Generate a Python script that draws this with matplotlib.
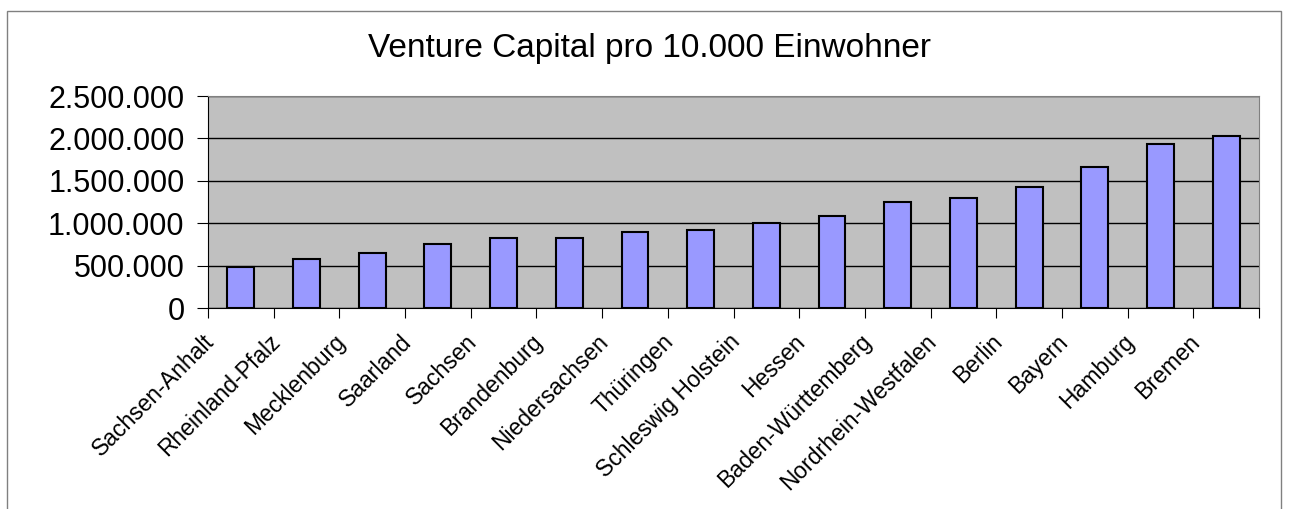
import matplotlib.pyplot as plt
from matplotlib.ticker import FuncFormatter
from matplotlib.patches import Rectangle
import matplotlib.transforms as mtransforms
import numpy as np

plt.rcParams['font.family'] = ['Liberation Sans', 'DejaVu Sans']

laender = ['Sachsen-Anhalt', 'Rheinland-Pfalz', 'Mecklenburg', 'Saarland', 'Sachsen',
           'Brandenburg', 'Niedersachsen', 'Thüringen', 'Schleswig Holstein', 'Hessen',
           'Baden-Württemberg', 'Nordrhein-Westfalen', 'Berlin', 'Bayern', 'Hamburg', 'Bremen']
werte = [480000, 575000, 652000, 750000, 829000, 829000, 900000, 923000, 1000000,
         1081000, 1254000, 1293000, 1430000, 1659000, 1930000, 2025000]
yticks = [0, 500000, 1000000, 1500000, 2000000, 2500000]

fig = plt.figure(figsize=(12.89, 5.09), dpi=100)
ax = fig.add_axes([208/1289, 1 - 308/509, 1051/1289, 212/509])

# outer chart border
fig.patches.append(Rectangle((7/1289, -0.05), 1274/1289, 1 - 11/509 + 0.05,
                             transform=fig.transFigure, fill=False,
                             edgecolor='#808080', linewidth=1))

n = len(laender)
x = np.arange(n)
ax.set_facecolor('#C0C0C0')
ax.bar(x, werte, width=0.41, color='#9999FF', edgecolor='black', linewidth=1.5, zorder=3)

ax.set_xlim(-0.5, n - 0.5)
ax.set_ylim(0, 2500000)
ax.set_yticks(yticks)
ax.yaxis.set_major_formatter(FuncFormatter(lambda v, p: format(int(v), ',').replace(',', '.')))
ax.grid(axis='y', color='black', linewidth=1, zorder=1)

# category separators as major ticks, labels on minor ticks
ax.set_xticks(np.arange(-0.5, n, 1))
ax.set_xticklabels([])
ax.set_xticks(x, minor=True)
ax.set_xticklabels(laender, minor=True, rotation=45, ha='right', fontsize=16.5)
ax.tick_params(axis='x', which='minor', length=0, pad=16)
ax.tick_params(axis='x', which='major', length=7, direction='out', color='black')
ax.tick_params(axis='y', length=8, pad=9, labelsize=22, color='black')

offset = mtransforms.ScaledTranslation(-22/100, 0, fig.dpi_scale_trans)
for lab in ax.get_xticklabels(minor=True):
    lab.set_transform(lab.get_transform() + offset)

for s in ['top', 'right']:
    ax.spines[s].set_color('#808080')
for s in ['left', 'bottom']:
    ax.spines[s].set_color('black')

fig.text(650/1289, 1 - 48/509, 'Venture Capital pro 10.000 Einwohner',
         ha='center', va='center', fontsize=24)

fig.savefig('out.png', dpi=100)
